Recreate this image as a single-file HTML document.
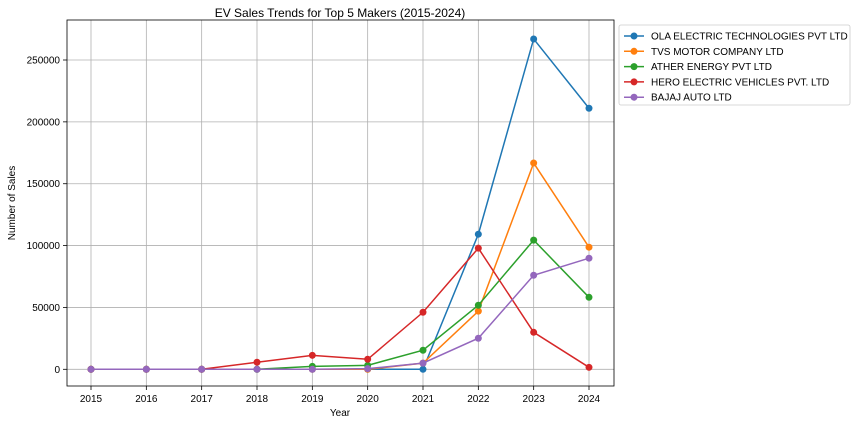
<!DOCTYPE html>
<html><head><meta charset="utf-8"><style>
body{margin:0;background:#fff;font-family:"Liberation Sans",sans-serif}
svg text{font-family:"Liberation Sans",sans-serif;fill:#000}
</style></head><body>
<svg id="c" width="856" height="424"></svg>
<script>
const years=[2015,2016,2017,2018,2019,2020,2021,2022,2023,2024];
const seriesNames=["OLA ELECTRIC TECHNOLOGIES PVT LTD","TVS MOTOR COMPANY LTD","ATHER ENERGY PVT LTD","HERO ELECTRIC VEHICLES PVT. LTD","BAJAJ AUTO LTD"];
const olaValues=[0,0,0,0,0,0,0,109200,267000,211000];
const tvsValues=[0,0,0,0,0,0,5000,47000,166700,98700];
const atherValues=[0,0,0,0,2400,3200,15400,51800,104400,58200];
const heroValues=[0,0,0,5700,11300,8100,46100,97900,29900,1600];
const bajajValues=[0,0,0,0,0,500,5000,25100,76000,89800];
const yTicks=[0,50000,100000,150000,200000,250000];
const colors=["#1f77b4","#ff7f0e","#2ca02c","#d62728","#9467bd"];
const allSeries=[olaValues,tvsValues,atherValues,heroValues,bajajValues];
const L=67,R=614,T=20,B=386;
const x=v=>91+(v-2015)*(589-91)/9;
const y=v=>369.3-v*(369.3-60)/250000;
const svg=document.getElementById('c');
const NS="http://www.w3.org/2000/svg";
function mk(t,a,p){const e=document.createElementNS(NS,t);for(const k in a)e.setAttribute(k,a[k]);(p||svg).appendChild(e);return e;}
let e;
years.forEach(yr=>{
 e=mk('line',{x1:x(yr),x2:x(yr),y1:T,y2:B,stroke:'#b0b0b0','stroke-width':0.8});
 
 e=mk('line',{x1:x(yr),x2:x(yr),y1:B,y2:B+4,stroke:'#000','stroke-width':0.8});
 e=mk('text',{x:x(yr),y:B+16,'font-size':10,'text-anchor':'middle'});e.textContent=yr;
 
});
yTicks.forEach(v=>{
 e=mk('line',{x1:L,x2:R,y1:y(v),y2:y(v),stroke:'#b0b0b0','stroke-width':0.8});
 
 e=mk('line',{x1:L-4,x2:L,y1:y(v),y2:y(v),stroke:'#000','stroke-width':0.8});
 e=mk('text',{x:L-7,y:y(v)+3.5,'font-size':10,'text-anchor':'end'});e.textContent=v;
 
});
e=mk('rect',{x:L,y:T,width:R-L,height:B-T,fill:'none',stroke:'#000','stroke-width':0.8});

allSeries.forEach((s,i)=>{
 const g=mk('g',{});
 
 const pts=s.map((v,j)=>x(years[j])+','+y(v)).join(' ');
 e=mk('polyline',{points:pts,fill:'none',stroke:colors[i],'stroke-width':1.5},g);
 
 s.forEach((v,j)=>{e=mk('circle',{cx:x(years[j]),cy:y(v),r:3.5,fill:colors[i]},g);
  });
});
e=mk('text',{x:340,y:17,'font-size':12,'text-anchor':'middle'});e.textContent='EV Sales Trends for Top 5 Makers (2015-2024)';

e=mk('text',{x:340,y:416,'font-size':10,'text-anchor':'middle'});e.textContent='Year';

e=mk('text',{x:15,y:203,'font-size':10,'text-anchor':'middle',transform:'rotate(-90 15 203)'});e.textContent='Number of Sales';

const lg=mk('g',{});
mk('rect',{x:619,y:25,width:231,height:80,rx:2,fill:'#fff',stroke:'#ccc','stroke-width':0.8},lg);
seriesNames.forEach((n,i)=>{
 const yy=36+i*15.3;
 const g=mk('g',{},lg);
 mk('line',{x1:624,x2:644,y1:yy,y2:yy,stroke:colors[i],'stroke-width':1.5},g);
 mk('circle',{cx:634,cy:yy,r:3.5,fill:colors[i]},g);
 e=mk('text',{x:651,y:yy+3.5,'font-size':10},g);e.textContent=n;
});
</script>
</body></html>
